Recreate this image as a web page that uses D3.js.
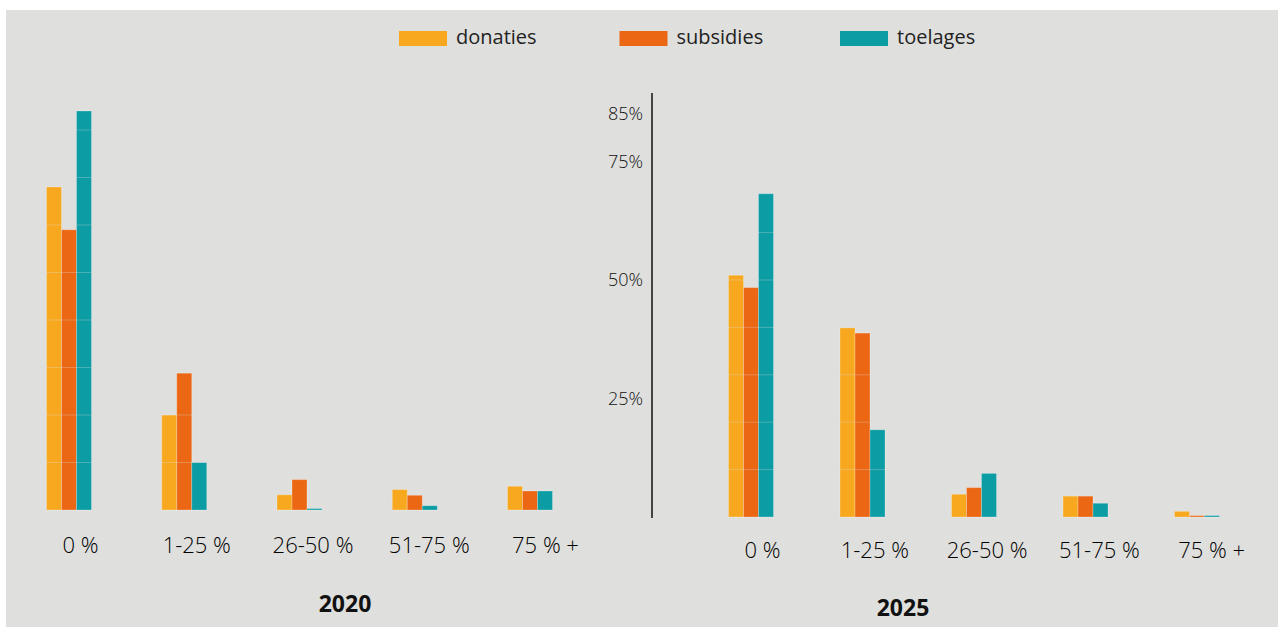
<!DOCTYPE html>
<html>
<head>
<meta charset="utf-8">
<script src="https://cdn.jsdelivr.net/npm/d3@7"></script>
<style>
  html, body { margin: 0; padding: 0; background: #fff; }
  svg { display: block; font-family: "Open Sans", "Noto Sans", sans-serif; }
</style>
</head>
<body>
<svg id="chart" width="1278" height="627"></svg>
<script>
// Data
const categories = ["0 %", "1-25 %", "26-50 %", "51-75 %", "75 % +"];
const series = ["donaties", "subsidies", "toelages"];
const colors = ["#f7a81f", "#ec6713", "#0b9ca4"];

const donaties2020 = [68, 20, 3.2, 4.3, 5];
const subsidies2020 = [59, 28.8, 6.4, 3.1, 4];
const toelages2020 = [84, 10, 0.3, 0.9, 4];

const donaties2025 = [51, 39.9, 4.8, 4.4, 1.2];
const subsidies2025 = [48.4, 38.8, 6.2, 4.4, 0.3];
const toelages2025 = [68.2, 18.4, 9.2, 2.9, 0.3];

const axisTicks2025 = [25, 50, 75, 85];
const gridSteps = [10, 20, 30, 40, 50, 60, 70, 80];

const svg = d3.select("#chart");

// background panel
svg.append("rect")
    .attr("x", 6).attr("y", 10)
    .attr("width", 1272).attr("height", 617)
    .attr("fill", "#dfdfdd");

// Legend
const legend = svg.append("g");
const legendX = d3.scalePoint().domain(series).range([399, 840]);
series.forEach((s, i) => {
    const g = legend.append("g").attr("transform", `translate(${legendX(s)},31)`);
    g.append("rect").attr("width", 48).attr("height", 15).attr("fill", colors[i]);
    g.append("text").attr("x", 57).attr("y", 13)
        .attr("font-size", 20).attr("fill", "#222").text(s);
});

// Generic grouped bar chart
function drawGroup(opts) {
    const g = svg.append("g");
    const x = d3.scalePoint().domain(categories).range(opts.xRange);
    const xLabel = d3.scalePoint().domain(categories).range(opts.labelRange);
    const xSub = d3.scaleBand().domain(series).range([-22.5, 22.5]);
    const y = d3.scaleLinear().domain([0, 85]).range([opts.base, opts.base - 85 * opts.pxPerPct]);

    opts.values.forEach((vals, si) => {
        g.selectAll(null)
            .data(vals)
            .join("rect")
            .attr("x", (d, i) => x(categories[i]) + xSub(series[si]))
            .attr("y", d => y(d))
            .attr("width", xSub.bandwidth())
            .attr("height", d => y(0) - y(d))
            .attr("fill", colors[si])
            .attr("stroke", "#ffffff")
            .attr("stroke-opacity", 0.25)
            .attr("stroke-width", 1);
    });

    // faint grid lines, only visible over bars
    g.selectAll(".grid")
        .data(gridSteps)
        .join("line")
        .attr("x1", opts.xRange[0] - 30)
        .attr("x2", opts.xRange[1] + 30)
        .attr("y1", d => y(d))
        .attr("y2", d => y(d))
        .attr("stroke", "#dfdfdd")
        .attr("stroke-opacity", 0.3)
        .attr("stroke-width", 1);

    // category labels
    g.selectAll(".cat")
        .data(categories)
        .join("text")
        .attr("x", d => xLabel(d))
        .attr("y", opts.labelY)
        .attr("text-anchor", "middle")
        .attr("font-size", 22)
        .attr("font-weight", 300)
        .attr("fill", "#000")
        .text(d => d);

    // year label
    g.append("text")
        .attr("x", opts.yearX)
        .attr("y", opts.yearY)
        .attr("text-anchor", "middle")
        .attr("font-size", 23)
        .attr("font-weight", "bold")
        .attr("fill", "#111")
        .text(opts.year);

    return y;
}

drawGroup({
    values: [donaties2020, subsidies2020, toelages2020],
    xRange: [69, 530],
    labelRange: [80.5, 545.5],
    base: 510,
    pxPerPct: 4.75,
    labelY: 553,
    year: "2020",
    yearX: 345,
    yearY: 612
});

const y2025 = drawGroup({
    values: [donaties2025, subsidies2025, toelages2025],
    xRange: [751, 1197],
    labelRange: [762.6, 1211.6],
    base: 517,
    pxPerPct: 4.74,
    labelY: 558,
    year: "2025",
    yearX: 903,
    yearY: 616
});

// y axis for 2025
const axisG = svg.append("g");
axisG.append("line")
    .attr("x1", 652).attr("x2", 652)
    .attr("y1", 93).attr("y2", 518)
    .attr("stroke", "#111").attr("stroke-width", 1.5);
axisG.selectAll("text")
    .data(axisTicks2025)
    .join("text")
    .attr("x", 643)
    .attr("y", d => y2025(d) + 6)
    .attr("text-anchor", "end")
    .attr("font-size", 18)
    .attr("font-weight", 300)
    .attr("fill", "#111")
    .text(d => d + "%");
</script>
</body>
</html>
